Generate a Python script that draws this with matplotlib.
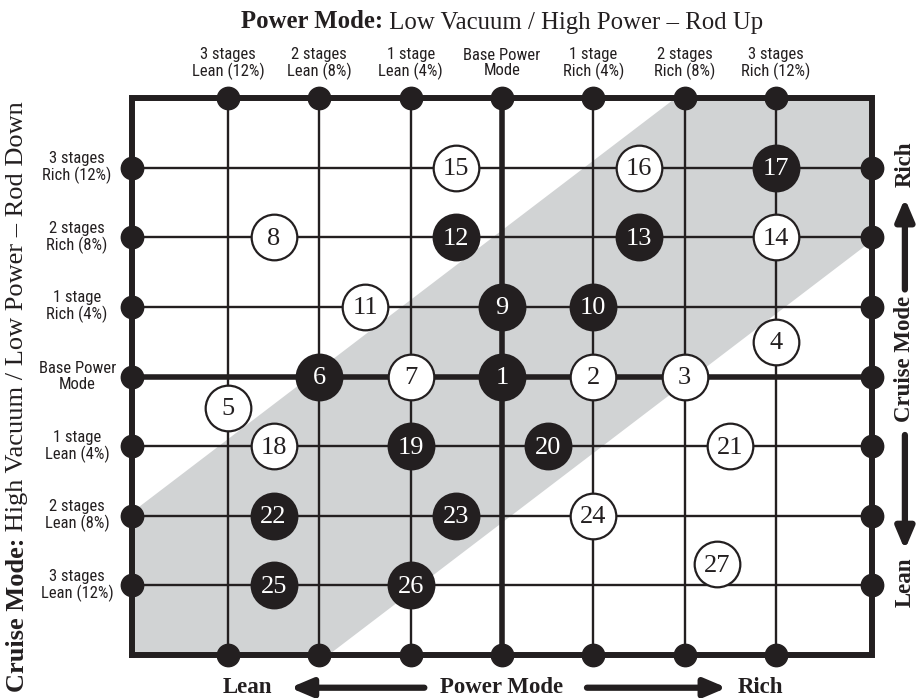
import matplotlib
matplotlib.use("Agg")
import matplotlib.pyplot as plt
from matplotlib import font_manager
import numpy as np

# grid levels: -3 (3 stages lean) .. 0 (base) .. 3 (3 stages rich)
levels = [-3, -2, -1, 0, 1, 2, 3]
power_labels = ["3 stages\nLean (12%)", "2 stages\nLean (8%)", "1 stage\nLean (4%)",
                "Base Power\nMode", "1 stage\nRich (4%)", "2 stages\nRich (8%)",
                "3 stages\nRich (12%)"]
cruise_labels = ["3 stages\nLean (12%)", "2 stages\nLean (8%)", "1 stage\nLean (4%)",
                 "Base Power\nMode", "1 stage\nRich (4%)", "2 stages\nRich (8%)",
                 "3 stages\nRich (12%)"]

# numbered test points (power mode x, cruise mode y, filled?)
point_ids = list(range(1, 28))
point_x = [0, 1, 2, 3, -3, -2, -1, -2.5, 0, 1, -1.5, -0.5, 1.5, 3, -0.5, 1.5, 3,
           -2.5, -1, 0.5, 2.5, -2.5, -0.5, 1, -2.5, -1, 2.35]
point_y = [0, 0, 0, 0.5, -0.45, 0, 0, 2, 1, 1, 1, 2, 2, 2, 3, 3, 3,
           -1, -1, -1, -1, -2, -2, -2, -3, -3, -2.7]
point_filled = [1, 0, 0, 0, 0, 1, 0, 0, 1, 1, 0, 1, 1, 0, 0, 0, 1,
                0, 1, 1, 0, 1, 1, 0, 1, 1, 0]

band_half_width = 2.1   # shaded diagonal band |y - x| <= this

INK = "#231f20"
GRAY = "#d1d3d4"

# pick a narrow sans if one is installed
available = {f.name for f in font_manager.fontManager.ttflist}
narrow = "Liberation Sans"
for name in ["Liberation Sans Narrow", "Roboto Condensed", "Open Sans Condensed"]:
    if name in available:
        narrow = name
        break
serif = "Liberation Serif"

W, H = 921, 698
fig = plt.figure(figsize=(W / 100, H / 100), dpi=100)
ax = fig.add_axes([132 / W, (H - 655) / H, 740 / W, 557 / H])
xmin, xmax, ymin, ymax = -4.05, 4.05, -4, 4
ax.set_xlim(xmin, xmax)
ax.set_ylim(ymin, ymax)
ax.axis("off")

# shaded band
b = band_half_width
band = [(xmin, ymin), (xmin, xmin + b), (ymax - b, ymax), (xmax, ymax),
        (xmax, xmax - b), (ymin + b, ymin)]
ax.add_patch(plt.Polygon(band, closed=True, facecolor=GRAY, edgecolor="none", zorder=0))

# grid lines
for v in levels:
    lw = 4.0 if v == 0 else 1.7
    ax.plot([v, v], [ymin, ymax], color=INK, lw=lw, zorder=1, solid_capstyle="butt")
    ax.plot([xmin, xmax], [v, v], color=INK, lw=lw, zorder=1, solid_capstyle="butt")

# outer box
ax.plot([xmin, xmax, xmax, xmin, xmin], [ymin, ymin, ymax, ymax, ymin],
        color=INK, lw=4.3, zorder=2, clip_on=False, solid_joinstyle="miter")

# end dots
lv = np.array(levels)
ax.scatter(lv, np.full(7, ymax), s=260, color=INK, zorder=3, clip_on=False)
ax.scatter(lv, np.full(7, ymin), s=260, color=INK, zorder=3, clip_on=False)
ax.scatter(np.full(7, xmin), lv, s=260, color=INK, zorder=3, clip_on=False)
ax.scatter(np.full(7, xmax), lv, s=260, color=INK, zorder=3, clip_on=False)

# numbered circles
for pid, px, py, f in zip(point_ids, point_x, point_y, point_filled):
    ax.scatter([px], [py], s=1080, facecolor=INK if f else "white",
               edgecolor=INK, linewidth=1.6, zorder=4)
    ax.text(px, py - 0.02, str(pid), ha="center", va="center", fontsize=19,
            family=serif, color="white" if f else INK, zorder=5)

# axis labels
for v, lab in zip(levels, power_labels):
    ax.text(v, 4.5, lab, ha="center", va="center", fontsize=12, family=narrow,
            color=INK, linespacing=1.05, clip_on=False)
for v, lab in zip(levels, cruise_labels):
    ax.text(-4.65, v, lab, ha="center", va="center", fontsize=12, family=narrow,
            color=INK, linespacing=1.05, clip_on=False)

# title (bold prefix + regular remainder)
t1 = fig.text(241 / W, 1 - 22 / H, "Power Mode:", ha="left", va="center",
              fontsize=17.8, family=serif, weight="bold", color=INK)
ax.annotate(" Low Vacuum / High Power \u2013 Rod Up", xy=(1, 0), xycoords=t1,
            ha="left", va="bottom", fontsize=17.8, family=serif, color=INK,
            annotation_clip=False)

# left rotated label
t2 = fig.text(18 / W, 1 - 692 / H, "Cruise Mode:", ha="center", va="bottom",
              rotation=90, fontsize=19, family=serif, weight="bold", color=INK)
ax.annotate(" High Vacuum / Low Power \u2013 Rod Down", xy=(0, 1), xycoords=t2,
            ha="left", va="bottom", rotation=90, fontsize=19, family=serif,
            color=INK, annotation_clip=False)

arrow = dict(arrowstyle="-|>,head_length=1.3,head_width=0.55", lw=4.5, color=INK,
             shrinkA=0, shrinkB=0)

# bottom: Lean <-- Power Mode --> Rich
yb = -4.47
ax.text(-2.79, yb, "Lean", ha="center", va="center", fontsize=16.5, family=serif,
        weight="bold", color=INK, clip_on=False)
ax.text(0, yb, "Power Mode", ha="center", va="center", fontsize=16.5, family=serif,
        weight="bold", color=INK, clip_on=False)
ax.text(2.83, yb, "Rich", ha="center", va="center", fontsize=16.5, family=serif,
        weight="bold", color=INK, clip_on=False)
ax.annotate("", xy=(-2.32, yb), xytext=(-0.85, yb), arrowprops=arrow, annotation_clip=False)
ax.annotate("", xy=(2.46, yb), xytext=(0.93, yb), arrowprops=arrow, annotation_clip=False)

# right: Lean <-- Cruise Mode --> Rich
xr = 4.41
ax.text(xr, 3.05, "Rich", ha="center", va="center", rotation=90, fontsize=16.5,
        family=serif, weight="bold", color=INK, clip_on=False)
ax.text(xr, 0.25, "Cruise Mode", ha="center", va="center", rotation=90, fontsize=16.5,
        family=serif, weight="bold", color=INK, clip_on=False)
ax.text(xr, -2.95, "Lean", ha="center", va="center", rotation=90, fontsize=16.5,
        family=serif, weight="bold", color=INK, clip_on=False)
ax.annotate("", xy=(xr, 2.56), xytext=(xr, 1.25), arrowprops=arrow, annotation_clip=False)
ax.annotate("", xy=(xr, -2.49), xytext=(xr, -0.84), arrowprops=arrow, annotation_clip=False)

fig.savefig("out.png", dpi=100)
